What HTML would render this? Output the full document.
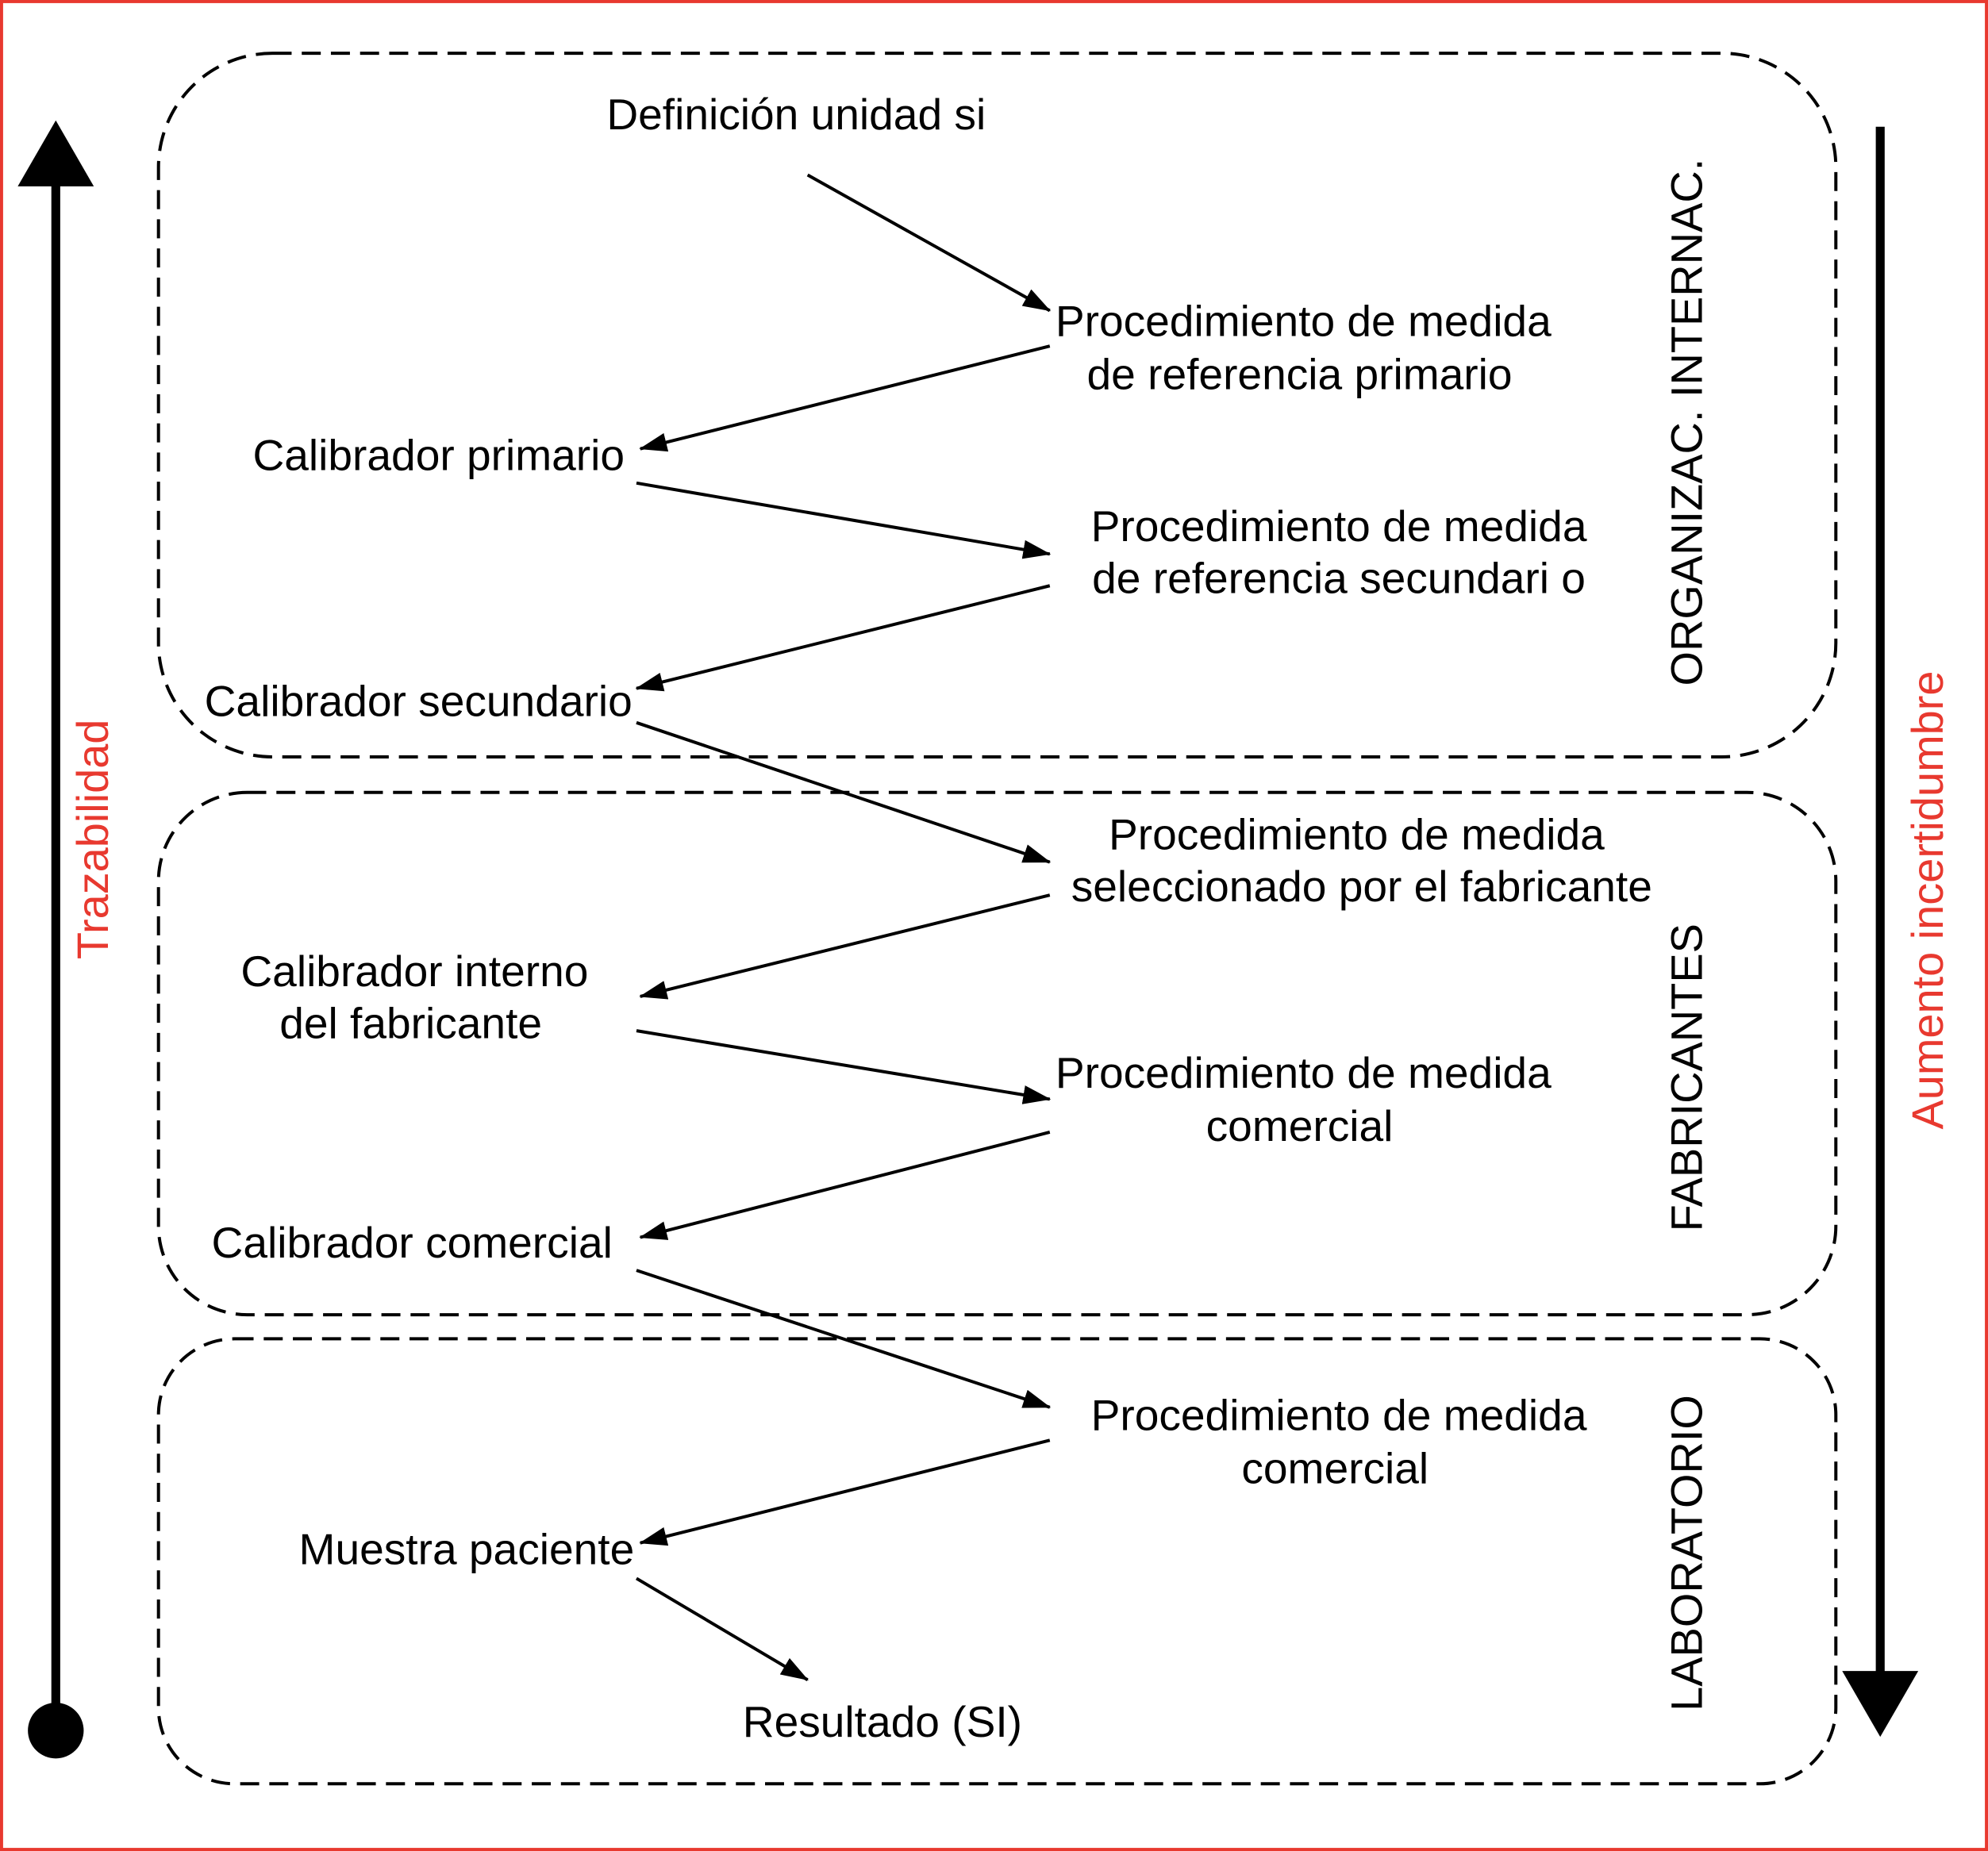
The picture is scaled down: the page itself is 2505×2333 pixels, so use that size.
<!DOCTYPE html>
<html><head><meta charset="utf-8"><style>html,body{margin:0;padding:0;background:#fff}svg{display:block}</style></head>
<body>
<svg width="2505" height="2333" viewBox="0 0 1568 1460" preserveAspectRatio="none" xmlns="http://www.w3.org/2000/svg" font-family="Liberation Sans, Arial, sans-serif">
<defs>
<marker id="b" markerWidth="22" markerHeight="15" refX="21" refY="7.5" orient="auto" markerUnits="userSpaceOnUse" viewBox="0 0 22 15"><path d="M0,0 L22,7.5 L0,15 z" fill="#000"/></marker></defs>
<rect x="1.2" y="1.2" width="1565.6" height="1457.6" fill="#fff" stroke="#e8392f" stroke-width="2.5"/>
<g fill="none" stroke="#000" stroke-width="2.5" stroke-dasharray="15 8">
<rect x="125" y="42" width="1323" height="555" rx="90"/>
<rect x="125" y="625" width="1323" height="412" rx="70"/>
<rect x="125" y="1056" width="1323" height="351" rx="60"/>
</g>
<line x1="44" y1="145" x2="44" y2="1365" stroke="#000" stroke-width="7"/>
<path d="M44,95 L14,147 L74,147 z" fill="#000"/>
<circle cx="44" cy="1365" r="22" fill="#000"/>
<line x1="1483" y1="100" x2="1483" y2="1320" stroke="#000" stroke-width="7"/>
<path d="M1483,1370 L1453,1318 L1513,1318 z" fill="#000"/>
<g stroke="#000" stroke-width="2.5" marker-end="url(#b)">
<line x1="637" y1="138" x2="828" y2="245"/>
<line x1="828" y1="273" x2="505" y2="354"/>
<line x1="502" y1="381" x2="828" y2="437"/>
<line x1="828" y1="462" x2="502" y2="543"/>
<line x1="502" y1="570" x2="828" y2="680"/>
<line x1="828" y1="706" x2="505" y2="786"/>
<line x1="502" y1="813" x2="828" y2="867"/>
<line x1="828" y1="893" x2="505" y2="976"/>
<line x1="502" y1="1002" x2="828" y2="1110"/>
<line x1="828" y1="1136" x2="505" y2="1217"/>
<line x1="502" y1="1245" x2="637" y2="1325"/>
</g>
<g font-size="34.5" text-anchor="middle" dominant-baseline="central" fill="#000">
<text x="628" y="90">Definición unidad si</text>
<text x="1028" y="253">Procedimiento de medida</text>
<text x="1025" y="295">de referencia primario</text>
<text x="346" y="359">Calibrador primario</text>
<text x="1056" y="415">Procedimiento de medida</text>
<text x="1056" y="456">de referencia secundari o</text>
<text x="330" y="553">Calibrador secundario</text>
<text x="1070" y="658">Procedimiento de medida</text>
<text x="1074" y="699">seleccionado por el fabricante</text>
<text x="327" y="766">Calibrador interno</text>
<text x="324" y="807">del fabricante</text>
<text x="1028" y="846">Procedimiento de medida</text>
<text x="1025" y="888">comercial</text>
<text x="325" y="980">Calibrador comercial</text>
<text x="1056" y="1116">Procedimiento de medida</text>
<text x="1053" y="1158">comercial</text>
<text x="368" y="1222">Muestra paciente</text>
<text x="696" y="1358">Resultado (SI)</text>
<text transform="translate(1330,333) rotate(-90)" font-size="35">ORGANIZAC. INTERNAC.</text>
<text transform="translate(1330,850) rotate(-90)" font-size="35">FABRICANTES</text>
<text transform="translate(1330,1225) rotate(-90)" font-size="35">LABORATORIO</text>
<text transform="translate(73,662) rotate(-90)" font-size="35" fill="#e8392f">Trazabilidad</text>
<text transform="translate(1520,710) rotate(-90)" font-size="35" fill="#e8392f">Aumento incertidumbre</text>
</g>
</svg>
</body></html>
